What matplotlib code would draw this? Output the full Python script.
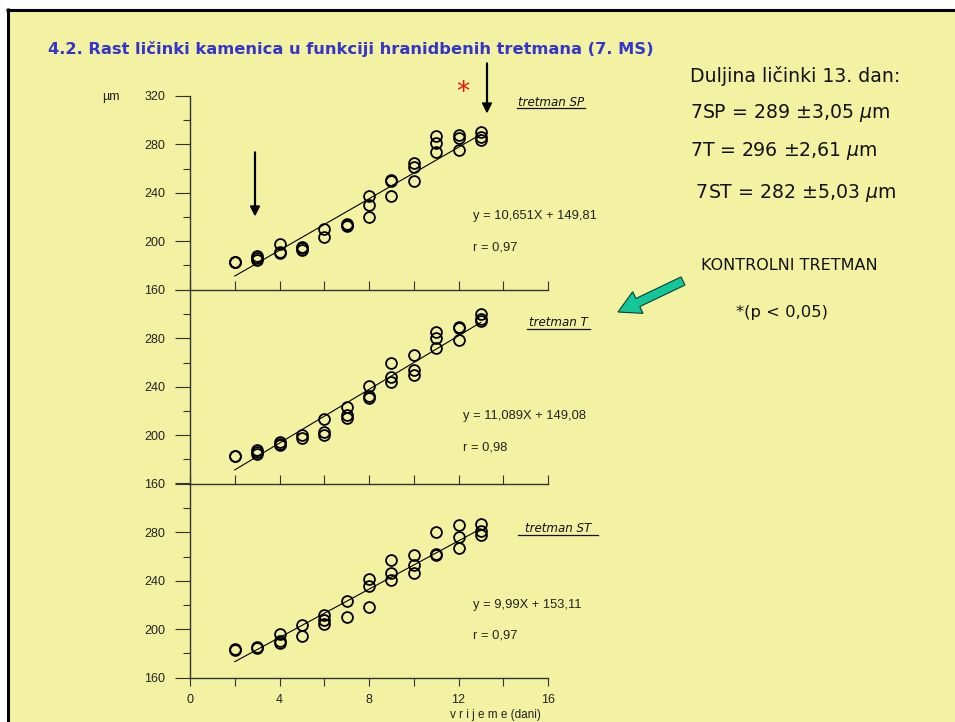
import matplotlib
matplotlib.use("Agg")
import matplotlib.pyplot as plt
from matplotlib.patches import Rectangle, FancyArrow
from matplotlib.ticker import FixedLocator
import numpy as np

# ---- data -------------------------------------------------------------
treatments = ["tretman SP", "tretman T", "tretman ST"]

days_sp = [2, 2, 2, 3, 3, 3, 4, 4, 4, 5, 5, 5, 6, 6, 7, 7, 7, 8, 8, 8,
           9, 9, 9, 10, 10, 10, 11, 11, 11, 12, 12, 12, 13, 13, 13]
len_sp = [183, 183, 182.5, 188, 186, 184.5, 198, 191, 190.5, 195, 193, 194,
          210, 203, 214, 212.5, 213, 237, 230, 220,
          250, 250.5, 237, 265, 261.5, 250, 287, 281, 274,
          288, 285, 275, 290, 286, 283.5]

days_t = [2, 2, 3, 3, 3, 4, 4, 4, 5, 5, 6, 6, 6, 7, 7, 7, 8, 8, 8,
          9, 9, 9, 10, 10, 10, 11, 11, 11, 12, 12, 12, 13, 13, 13]
len_t = [182.5, 183, 188, 184.5, 186, 194, 192, 193, 200, 197.5,
         213, 202.5, 200.5, 223, 217, 214, 241, 232, 231,
         260, 248, 244, 266, 254, 250, 285, 280, 272,
         289.5, 288.5, 278.5, 300, 296, 294]

days_st = [2, 2, 3, 3, 4, 4, 4, 5, 5, 6, 6, 6, 7, 7, 8, 8, 8,
           9, 9, 9, 10, 10, 10, 11, 11, 11, 12, 12, 12, 13, 13, 13]
len_st = [183, 183.5, 185, 184, 196, 190.5, 188.5, 203, 194.5,
          212, 207.5, 204.5, 223, 210, 241.5, 236, 218,
          257, 246.5, 240.5, 261, 253, 246.5, 280, 262.5, 261.5,
          286, 276.5, 267, 287, 281, 277.5]

slopes = [10.651, 11.089, 9.99]
intercepts = [149.81, 149.08, 153.11]
r_values = ["0,97", "0,98", "0,97"]
eq_labels = ["y = 10,651X + 149,81", "y = 11,089X + 149,08", "y = 9,99X + 153,11"]

x_major = [0, 4, 8, 12, 16]
x_minor = [2, 6, 10, 14]
y_major = [160, 200, 240, 280, 320]
y_minor = [180, 220, 260, 300]

summary_lines = ["Duljina ličinki 13. dan:",
                 "7SP = 289 ±3,05 $\\mu$m",
                 "7T = 296 ±2,61 $\\mu$m",
                 " 7ST = 282 ±5,03 $\\mu$m"]

# ---- figure -----------------------------------------------------------
W, H = 955, 722
fig = plt.figure(figsize=(W / 100, H / 100), dpi=100, facecolor="white")

BG = "#F2F2A2"
SANS = ["Liberation Sans", "DejaVu Sans"]
HAND = ["DejaVu Sans"]

# canvas in pixel coordinates (y down)
cv = fig.add_axes([0, 0, 1, 1], zorder=0)
cv.set_xlim(0, W)
cv.set_ylim(H, 0)
cv.axis("off")
cv.add_patch(Rectangle((9, 11), W, H, facecolor=BG, edgecolor="none"))
cv.plot([7.5, 7.5], [8, H], color="black", lw=2.2, solid_capstyle="butt")
cv.plot([6, W], [9.5, 9.5], color="black", lw=2.2, solid_capstyle="butt")


def fx(px):
    return px / W


def fy(py):
    return 1 - py / H


left, right = 190, 548
tops = [96, 290, 484]
ph = 193.5

data = [(days_sp, len_sp), (days_t, len_t), (days_st, len_st)]
label_pos = [(551, 102), (558, 322), (558, 528)]
ul_pos = [(517, 585, 107.5), (527, 590, 328.5), (518, 598, 535)]
eq_pos = [(473, 216, 248), (463, 416, 447), (473, 605, 636)]

for i in range(3):
    top = tops[i]
    ax = fig.add_axes([fx(left), fy(top + ph), (right - left) / W, ph / H], zorder=2)
    ax.patch.set_alpha(0)
    for s in ("top", "right"):
        ax.spines[s].set_visible(False)
    for s in ("left", "bottom"):
        ax.spines[s].set_color("#333333")
        ax.spines[s].set_linewidth(1.0)
    ax.set_xlim(0, 16)
    ax.set_ylim(160, 320)

    x, y = data[i]
    ax.plot(x, y, linestyle="none", marker="o", markersize=7.8,
            markerfacecolor="none", markeredgecolor="black", markeredgewidth=1.3,
            clip_on=False)
    xl = np.array([2, 13])
    ax.plot(xl, slopes[i] * xl + intercepts[i], color="black", lw=0.8)

    ax.yaxis.set_major_locator(FixedLocator(y_major))
    ax.yaxis.set_minor_locator(FixedLocator(y_minor))
    ax.xaxis.set_major_locator(FixedLocator(x_major))
    ax.xaxis.set_minor_locator(FixedLocator(x_minor))
    if i == 0:
        ax.set_yticklabels([str(v) for v in y_major])
    else:
        ax.set_yticklabels([str(v) for v in y_major[:-1]] + [""])
    ax.tick_params(axis="y", which="major", direction="out", length=10.8,
                   width=0.8, pad=7, labelsize=9, colors="#333333",
                   labelcolor="#222222")
    ax.tick_params(axis="y", which="minor", direction="out", length=5,
                   width=0.8, colors="#333333")
    if i < 2:
        ax.tick_params(axis="x", which="both", direction="in", length=6.5,
                       width=0.8, colors="#333333", labelbottom=False)
    else:
        ax.tick_params(axis="x", which="both", direction="out", length=6,
                       width=0.8, pad=6, labelsize=9, colors="#333333",
                       labelcolor="#222222")
    for lab in ax.get_xticklabels() + ax.get_yticklabels():
        lab.set_family(SANS)

    # panel annotations
    lx, ly = label_pos[i]
    cv.text(lx, ly, treatments[i], family=HAND, style="italic", fontsize=8.6,
            ha="center", va="center", color="#111111")
    u0, u1, uy = ul_pos[i]
    cv.plot([u0, u1], [uy, uy], color="#111111", lw=0.9)
    ex, ey, ry = eq_pos[i]
    cv.text(ex, ey, eq_labels[i], family=SANS, fontsize=9.3, ha="left",
            va="center", color="#222222")
    cv.text(ex, ry, "r = " + r_values[i], family=SANS, fontsize=9.3, ha="left",
            va="center", color="#222222")

cv.text(111, 97, "µm", family=SANS, fontsize=9, ha="center", va="center",
        color="#222222")
cv.text(495, 721, "v r i j e m e (dani)", family=SANS, fontsize=8.5,
        ha="center", va="bottom", color="#222222")

# title
cv.text(48, 49, "4.2. Rast ličinki kamenica u funkciji hranidbenih tretmana (7. MS)",
        family=HAND, fontweight="bold", fontsize=11.7, color="#3535CC",
        ha="left", va="center")

# summary block on the right
sy = [76, 113, 151, 193]
for s, yy in zip(summary_lines, sy):
    cv.text(690, yy, s, family=HAND, fontsize=13.6, color="#111111",
            ha="left", va="center")
cv.text(789, 266, "KONTROLNI TRETMAN", family=HAND, fontsize=11.5,
        color="#111111", ha="center", va="center")
cv.text(782, 313, "*(p < 0,05)", family=HAND, fontsize=11.8,
        color="#111111", ha="center", va="center")

# pointer arrows
cv.add_patch(FancyArrow(255, 152, 0, 63, width=0.8, head_width=9,
                        head_length=9, length_includes_head=True,
                        color="black", zorder=5))
cv.add_patch(FancyArrow(487, 63, 0, 49, width=0.8, head_width=9,
                        head_length=9, length_includes_head=True,
                        color="black", zorder=5))
cv.add_patch(FancyArrow(683, 281, -65, 31, width=9, head_width=24,
                        head_length=22, length_includes_head=True,
                        facecolor="#14C79A", edgecolor="#0C3B2E", lw=0.8,
                        zorder=5))
cv.text(463, 90, "*", family=HAND, fontsize=19, color="#EE1111",
        ha="center", va="center_baseline")

fig.savefig("out.png", dpi=100, facecolor="white")
